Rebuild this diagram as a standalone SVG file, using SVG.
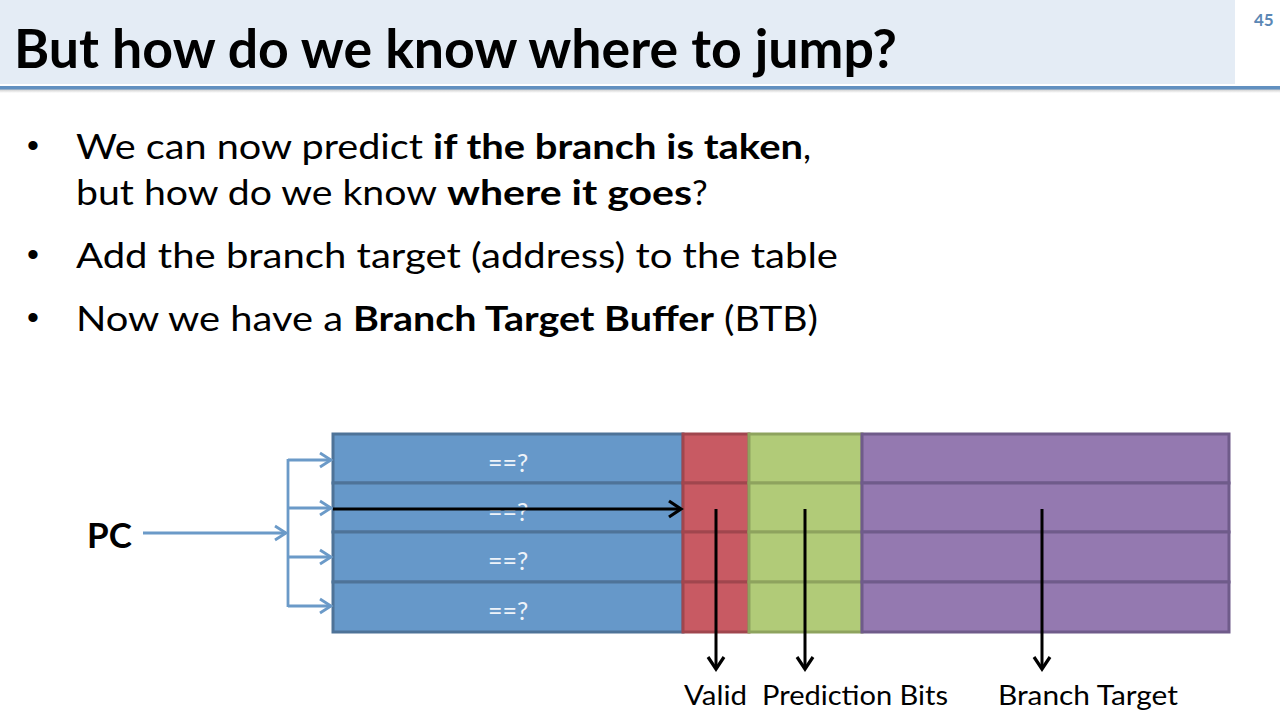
<svg xmlns="http://www.w3.org/2000/svg" width="1280" height="720" viewBox="0 0 1280 720">
<style>
.t{font-family:Lato,"Open Sans","Liberation Sans",sans-serif;fill:#000}
.b{font-weight:bold}
.body{font-size:35px}
.bul{font-family:"Liberation Sans",Arial,sans-serif;font-size:34px;fill:#000}
.lbl{font-size:27px}
.eq{font-family:Lato,"Open Sans","Liberation Sans",sans-serif;font-size:25px;fill:#eef3f9;text-anchor:middle}
.blue{fill:#6698c9;stroke:#4e7398;stroke-width:3}
.red{fill:#c85a63;stroke:#a0464e;stroke-width:3}
.green{fill:#b1cb78;stroke:#8ea35e;stroke-width:3}
.purple{fill:#9479b0;stroke:#6f5b8a;stroke-width:3}
.pcl{fill:none;stroke:#6b9ac8;stroke-width:2.8}
.blk{fill:none;stroke:#000;stroke-width:3}
</style>
<defs>
<marker id="bh" markerUnits="userSpaceOnUse" markerWidth="16" markerHeight="20" viewBox="-13 -9 16 18" refX="0" refY="0" orient="auto">
<path d="M-11,-7 L0,0 L-11,7" fill="none" stroke="#6b9ac8" stroke-width="2.8"/>
</marker>
<marker id="kh" markerUnits="userSpaceOnUse" markerWidth="18" markerHeight="22" viewBox="-14 -10 18 20" refX="0" refY="0" orient="auto">
<path d="M-12,-8 L0,0 L-12,8" fill="none" stroke="#000" stroke-width="3.2"/>
</marker>
<linearGradient id="sh" x1="0" y1="0" x2="0" y2="1">
<stop offset="0" stop-color="#c8c8c8"/>
<stop offset="1" stop-color="#ffffff"/>
</linearGradient>
</defs>
<rect width="1280" height="720" fill="#fff"/>
<g id="header">
<rect x="0" y="0" width="1235" height="84" fill="#e4ecf5"/>
<rect x="0" y="89" width="1280" height="4" fill="url(#sh)"/>
<rect x="0" y="86" width="1280" height="3.5" fill="#6190c0"/>
<text class="t b" x="14" y="68" font-size="53" textLength="883" lengthAdjust="spacingAndGlyphs">But how do we know where to jump?</text>
<text class="t b" x="1254" y="26" font-size="17" style="fill:#5b87b5">45</text>
</g>
<g id="bullets">
<text class="bul" x="27" y="157">•</text>
<text class="t body" x="76" y="159" textLength="347" lengthAdjust="spacingAndGlyphs">We can now predict</text>
<text class="t body b" x="433" y="159" textLength="370" lengthAdjust="spacingAndGlyphs">if the branch is taken</text>
<text class="t body" x="803" y="159">,</text>
<text class="t body" x="76" y="205" textLength="361" lengthAdjust="spacingAndGlyphs">but how do we know</text>
<text class="t body b" x="447" y="205" textLength="245" lengthAdjust="spacingAndGlyphs">where it goes</text>
<text class="t body" x="692" y="205">?</text>
<text class="bul" x="27" y="266">•</text>
<text class="t body" x="76" y="268" textLength="762" lengthAdjust="spacingAndGlyphs">Add the branch target (address) to the table</text>
<text class="bul" x="27" y="329">•</text>
<text class="t body" x="76" y="331" textLength="267" lengthAdjust="spacingAndGlyphs">Now we have a</text>
<text class="t body b" x="353" y="331" textLength="361" lengthAdjust="spacingAndGlyphs">Branch Target Buffer</text>
<text class="t body" x="724" y="331" textLength="94" lengthAdjust="spacingAndGlyphs">(BTB)</text>
</g>
<g id="tag-col">
<rect class="blue" x="333" y="434" width="350" height="49"/>
<rect class="blue" x="333" y="483" width="350" height="49"/>
<rect class="blue" x="333" y="532" width="350" height="50"/>
<rect class="blue" x="333" y="582" width="350" height="50"/>
<text class="eq" x="508" y="472">==?</text>
<text class="eq" x="508" y="521">==?</text>
<text class="eq" x="508" y="570">==?</text>
<text class="eq" x="508" y="620">==?</text>
</g>
<g id="valid-col">
<rect class="red" x="683" y="434" width="66" height="49"/>
<rect class="red" x="683" y="483" width="66" height="49"/>
<rect class="red" x="683" y="532" width="66" height="50"/>
<rect class="red" x="683" y="582" width="66" height="50"/>
</g>
<g id="pred-col">
<rect class="green" x="749" y="434" width="113" height="49"/>
<rect class="green" x="749" y="483" width="113" height="49"/>
<rect class="green" x="749" y="532" width="113" height="50"/>
<rect class="green" x="749" y="582" width="113" height="50"/>
</g>
<g id="target-col">
<rect class="purple" x="862" y="434" width="367" height="49"/>
<rect class="purple" x="862" y="483" width="367" height="49"/>
<rect class="purple" x="862" y="532" width="367" height="50"/>
<rect class="purple" x="862" y="582" width="367" height="50"/>
</g>
<g id="pc">
<text class="t b" x="87" y="548" font-size="35">PC</text>
</g>
<g id="labels">
<text class="t lbl" x="684" y="705" textLength="63" lengthAdjust="spacingAndGlyphs">Valid</text>
<text class="t lbl" x="762" y="705" textLength="186" lengthAdjust="spacingAndGlyphs">Prediction Bits</text>
<text class="t lbl" x="998" y="705" textLength="180" lengthAdjust="spacingAndGlyphs">Branch Target</text>
</g>
<g id="connectors">
<line class="pcl" x1="143" y1="533" x2="286" y2="533" marker-end="url(#bh)"/>
<line class="pcl" x1="288" y1="459" x2="288" y2="607"/>
<line class="pcl" x1="288" y1="460" x2="331" y2="460" marker-end="url(#bh)"/>
<line class="pcl" x1="288" y1="508" x2="331" y2="508" marker-end="url(#bh)"/>
<line class="pcl" x1="288" y1="557" x2="331" y2="557" marker-end="url(#bh)"/>
<line class="pcl" x1="288" y1="606" x2="331" y2="606" marker-end="url(#bh)"/>
<line class="blk" x1="333" y1="509" x2="681" y2="509" marker-end="url(#kh)"/>
<line class="blk" x1="716" y1="509" x2="716" y2="669" marker-end="url(#kh)"/>
<line class="blk" x1="805" y1="509" x2="805" y2="669" marker-end="url(#kh)"/>
<line class="blk" x1="1042" y1="509" x2="1042" y2="669" marker-end="url(#kh)"/>
</g>
</svg>
